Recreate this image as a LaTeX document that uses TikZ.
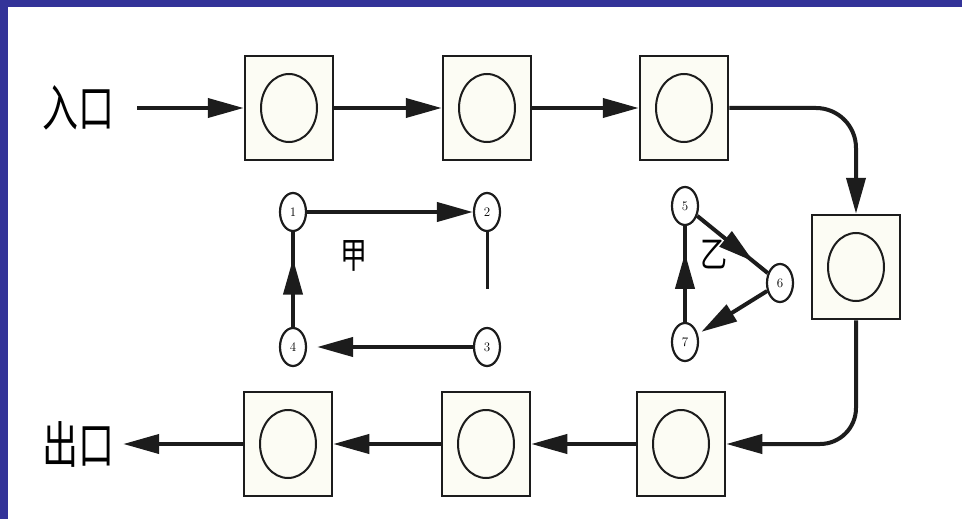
\documentclass[tikz,border=0pt]{standalone}
\usepackage{graphicx}
\usepackage{fontspec}
\newfontfamily\cjk{Noto Sans CJK SC}
\usetikzlibrary{arrows.meta,shapes.geometric,decorations.markings}
\definecolor{frameblue}{HTML}{333399}
\definecolor{ink}{HTML}{1C1C1C}
\definecolor{boxfill}{HTML}{FCFCF4}
\begin{document}
\begin{tikzpicture}[x=1pt,y=-1pt,
  stage/.style={draw=ink, line width=2.5pt, fill=boxfill, minimum width=88pt, minimum height=104pt, inner sep=0pt},
  ring/.style={draw=ink, ellipse, line width=2pt, minimum width=56pt, minimum height=68pt, inner sep=0pt},
  tag/.style={draw=ink, ellipse, line width=2.2pt, fill=white, minimum width=26pt, minimum height=38pt, inner sep=0pt, font=\fontsize{13}{13}\selectfont},
  sign/.style={inner sep=0pt, font=\cjk\fontsize{50}{50}\selectfont},
  flow/.style={draw=ink, line width=4pt, -{Triangle[length=36pt,width=19pt]}},
  midtip/.style={draw=ink, line width=4pt, postaction={decorate},
    decoration={markings, mark=at position #1 with {\arrow{Triangle[length=36pt,width=19pt]}}}},
  stubline/.style={draw=ink, line width=3pt},
  loopname/.style={font=\cjk\fontsize{36}{36}\selectfont},
]
\useasboundingbox (0,0) rectangle (962,519);
% paper and frame
\fill[white] (0,0) rectangle (962,519);
\fill[frameblue] (0,0) rectangle (962,7);
\fill[frameblue] (0,0) rectangle (8,519);

% entry / exit labels
\node[sign] (entry) at (78,108) {\scalebox{0.72}[1]{入口}};
\node[sign] (exit) at (78,444) {\scalebox{0.72}[1]{出口}};

% processing stations
\node[stage] (s1) at (289,108) {}; \node[ring] (c1) at (s1) {};
\node[stage] (s2) at (487,108) {}; \node[ring] (c2) at (s2) {};
\node[stage] (s3) at (684,108) {}; \node[ring] (c3) at (s3) {};
\node[stage] (s5) at (856,267) {}; \node[ring] (c5) at (s5) {};
\node[stage] (s6) at (681,444) {}; \node[ring] (c6) at (s6) {};
\node[stage] (s7) at (486,444) {}; \node[ring] (c7) at (s7) {};
\node[stage] (s8) at (288,444) {}; \node[ring] (c8) at (s8) {};

% main flow
\draw[flow, shorten <=23pt] (entry.east) -- (s1.west);
\draw[flow] (s1.east) -- (s2.west);
\draw[flow] (s2.east) -- (s3.west);
\draw[flow, rounded corners=40pt] (s3.east) -| (s5.north);
\draw[flow, rounded corners=36pt] (s5.south) |- (s6.east);
\draw[flow] (s6.west) -- (s7.east);
\draw[flow] (s7.west) -- (s8.east);
\draw[flow, shorten >=9pt] (s8.west) -- (exit.east);

% loop A
\node[tag] (t1) at (293,212) {1};
\node[tag] (t2) at (487,212) {2};
\node[tag] (t3) at (487,347) {3};
\node[tag] (t4) at (293,347) {4};
\coordinate (stub) at (487,289);
\draw[flow] (t1) -- (t2);
\draw[stubline] (t2) -- (stub);
\draw[flow, shorten >=10pt] (t3) -- (t4);
\draw[midtip=0.72] (t4) -- (t1);
\node[loopname] (jia) at (354,256) {\scalebox{0.75}[1]{甲}};

% loop B
\node[tag] (t5) at (685,206) {5};
\node[tag] (t6) at (780,283) {6};
\node[tag] (t7) at (685,342) {7};
\draw[midtip=0.8] (t5) -- (t6);
\draw[flow, shorten >=4pt] (t6) -- (t7);
\draw[midtip=0.72] (t7) -- (t5);
\node[loopname] (yi) at (714,255) {\scalebox{0.75}[1]{乙}};
\end{tikzpicture}
\end{document}
